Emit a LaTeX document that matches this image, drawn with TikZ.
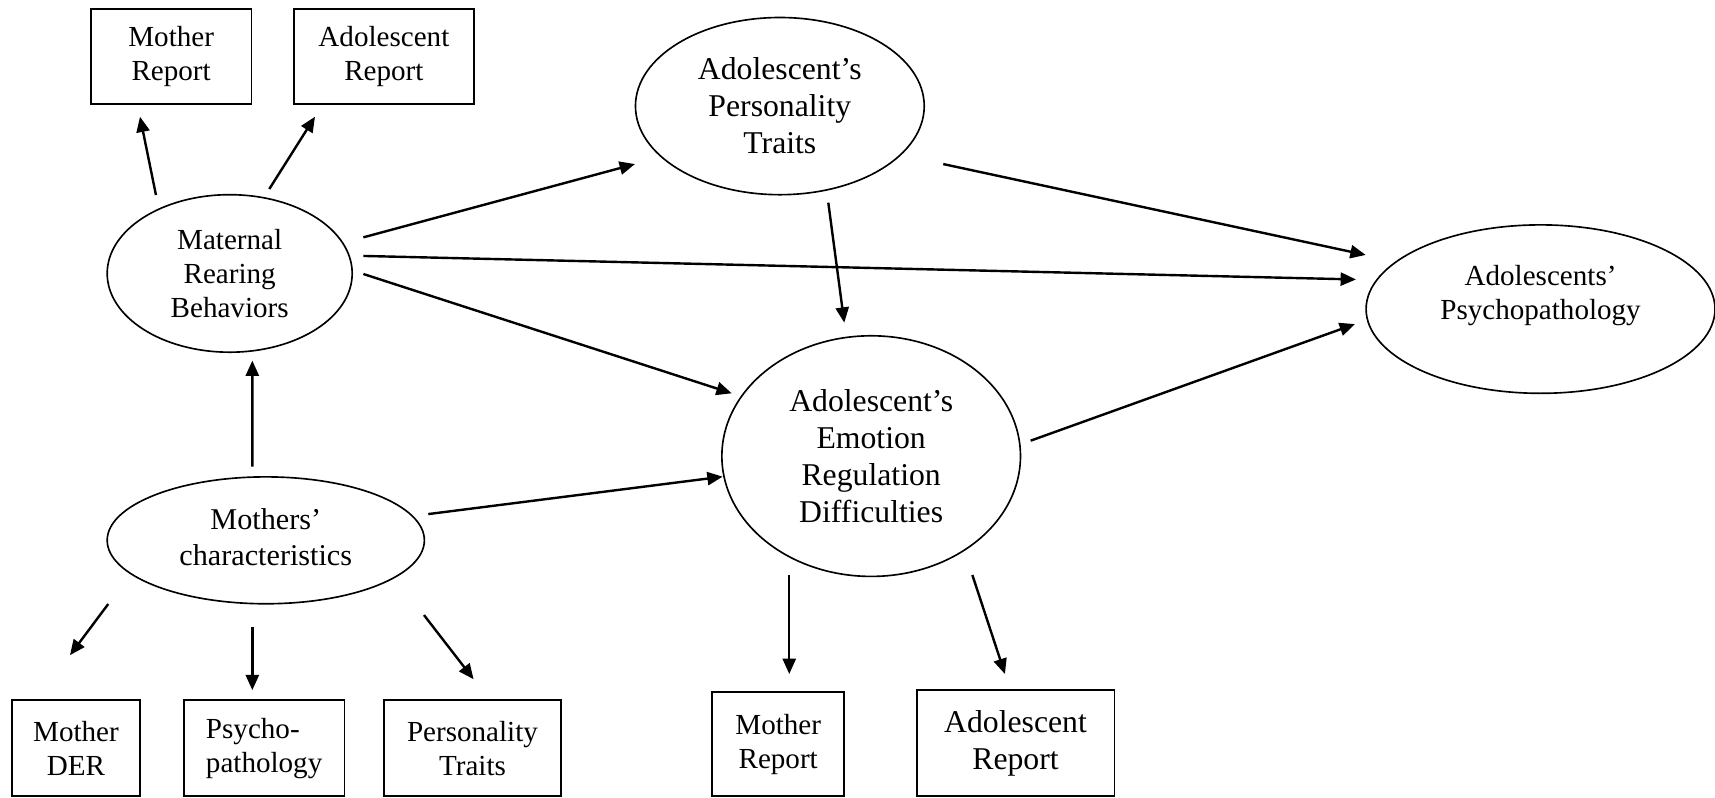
\documentclass[tikz,border=0pt]{standalone}
\usepackage{fontspec}
\setmainfont{Liberation Serif}
\usetikzlibrary{arrows.meta,shapes.geometric}
\begin{document}
\begin{tikzpicture}[x=0.5pt,y=-0.5pt,
  ell/.style={draw,ellipse,line width=0.75pt,inner sep=0pt,outer sep=0pt,align=center},
  box/.style={draw,rectangle,line width=0.85pt,inner sep=0pt,outer sep=0pt,align=center},
  sm/.style={font=\fontsize{13.3}{15.6}\selectfont},
  md/.style={font=\fontsize{13.8}{16.3}\selectfont},
  bg/.style={font=\fontsize{14.5}{16.9}\selectfont},
  arr/.style={-{Triangle[length=7pt,width=6pt]},line width=1.1pt}]
\useasboundingbox (0,0) rectangle (1568,729);

% top boxes
\node[box,sm,minimum width=73.5pt,minimum height=43.5pt] (mr1) at (156.5,51.5) {Mother\\Report};
\node[box,sm,minimum width=82pt,minimum height=43.5pt] (ar1) at (351,51.5) {Adolescent\\Report};

% ellipses
\node[ell,sm,minimum width=112pt,minimum height=72pt] (mrb) at (210,250) {Maternal\\Rearing\\Behaviors};
\node[ell,bg,minimum width=132pt,minimum height=81pt] (pers) at (713,97) {Adolescent’s\\Personality\\Traits};
\node[ell,minimum width=159.5pt,minimum height=77pt] (psy) at (1408.5,282.6) {};
\node[sm,align=center,inner sep=0pt] (psytext) at (1408.5,270) {Adolescents’\\Psychopathology};
\node[ell,bg,minimum width=136.5pt,minimum height=110pt] (erd) at (796.5,417) {Adolescent’s\\Emotion\\Regulation\\Difficulties};
\node[ell,minimum width=145pt,minimum height=58pt] (mc) at (243,494) {};
\node[md,align=center,inner sep=0pt] (mctext) at (243,491) {Mothers’\\characteristics};

% bottom boxes
\node[box,sm,minimum width=58.5pt,minimum height=44pt] (der) at (69.5,684) {Mother\\DER};
\node[box,sm,align=left,minimum width=73.5pt,minimum height=44pt] (psp) at (241.5,684) {Psycho-\\pathology};
\node[box,sm,minimum width=81pt,minimum height=44pt] (pt) at (432,684) {Personality\\Traits};
\node[box,sm,minimum width=60.5pt,minimum height=47.5pt] (mr2) at (711.5,680.5) {Mother\\Report};
\node[box,bg,minimum width=90.5pt,minimum height=48.5pt] (ar2) at (928.5,679.5) {Adolescent\\Report};

% connectors
\draw[arr] ([shift={(-67.4,-71.7)}]mrb.center) -- ([shift={(-28.5,55.2)}]mr1.center);
\draw[arr] ([shift={(36.2,-77.2)}]mrb.center) -- ([shift={(-63,55.2)}]ar1.center);
\draw[arr] ([shift={(122.2,-33)}]mrb.center) -- ([shift={(-132.5,53)}]pers.center);
\draw[arr] ([shift={(122.2,-16)}]mrb.center) -- ([shift={(-168.8,-27.1)}]psy.center);
\draw[arr] ([shift={(122.2,0.5)}]mrb.center) -- ([shift={(-127.5,-57.4)}]erd.center);
\draw[arr] ([shift={(44.3,88.3)}]pers.center) -- ([shift={(-24.6,-122)}]erd.center);
\draw[arr] ([shift={(149.4,53)}]pers.center) -- ([shift={(-159.9,-49.5)}]psy.center);
\draw[arr] ([shift={(145.8,-14.1)}]erd.center) -- ([shift={(-169.7,13.7)}]psy.center);
\draw[arr] ([shift={(-74.9,108.7)}]erd.center) -- ([shift={(10.1,-64.3)}]mr2.center);
\draw[arr] ([shift={(92.5,108.7)}]erd.center) -- ([shift={(-9.7,-63.3)}]ar2.center);
\draw[arr] ([shift={(-12.3,-67.4)}]mc.center) -- ([shift={(20.7,79.7)}]mrb.center);
\draw[arr] ([shift={(148.6,-24)}]mc.center) -- ([shift={(-135.8,18.8)}]erd.center);
\draw[arr] ([shift={(-144,58.2)}]mc.center) -- ([shift={(-5.5,-85)}]der.center);
\draw[arr] ([shift={(-12.3,79)}]mc.center) -- ([shift={(-10.8,-53)}]psp.center);
\draw[arr] ([shift={(144.6,68.3)}]mc.center) -- ([shift={(1,-63)}]pt.center);
\end{tikzpicture}
\end{document}
